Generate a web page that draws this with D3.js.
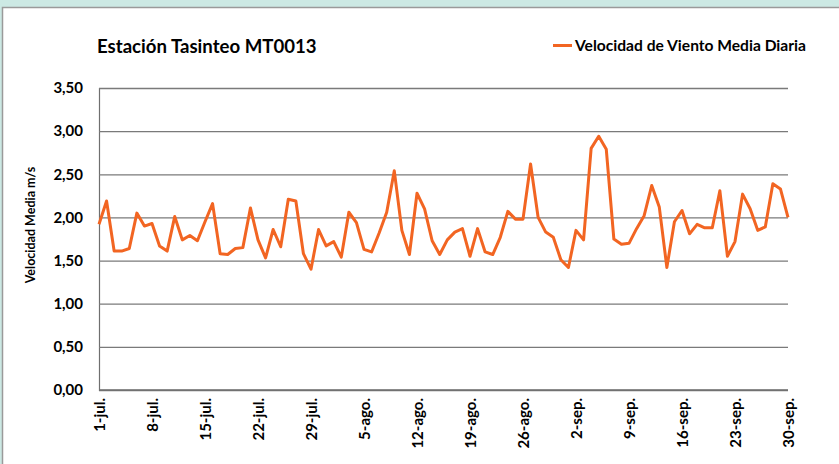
<!DOCTYPE html>
<html>
<head>
<meta charset="utf-8">
<script src="https://cdn.jsdelivr.net/npm/d3@7"></script>
<style>
  html, body { margin: 0; padding: 0; background: #cce9e4; }
  svg { display: block; }
  text { font-family: Lato, "Open Sans", sans-serif; font-weight: bold; fill: #000; }
</style>
</head>
<body>
<script>
// Daily mean wind speed, 1 Jul – 30 Sep
const startDate = "2013-07-01";
const windSpeed = [
  1.92, 2.19, 1.61, 1.61, 1.64, 2.05, 1.90, 1.93, 1.67, 1.61,
  2.01, 1.74, 1.79, 1.73, 1.95, 2.16, 1.58, 1.57, 1.64, 1.65,
  2.11, 1.74, 1.53, 1.86, 1.66, 2.21, 2.19, 1.58, 1.40, 1.86,
  1.67, 1.72, 1.54, 2.06, 1.94, 1.63, 1.60, 1.82, 2.06, 2.54,
  1.85, 1.57, 2.28, 2.10, 1.73, 1.57, 1.74, 1.83, 1.87, 1.55,
  1.87, 1.60, 1.57, 1.77, 2.07, 1.98, 1.98, 2.62, 2.00, 1.83,
  1.77, 1.51, 1.42, 1.85, 1.74, 2.80, 2.94, 2.79, 1.75, 1.69,
  1.70, 1.87, 2.02, 2.37, 2.12, 1.42, 1.95, 2.08, 1.81, 1.92,
  1.88, 1.88, 2.31, 1.55, 1.72, 2.27, 2.10, 1.85, 1.89, 2.39,
  2.33, 2.00
];
const yTicks = [0, 0.5, 1, 1.5, 2, 2.5, 3, 3.5];
const monthAbbr = ["ene.", "feb.", "mar.", "abr.", "may.", "jun.", "jul.", "ago.", "sep.", "oct.", "nov.", "dic."];
const chartTitle = "Estación Tasinteo MT0013";
const seriesName = "Velocidad de Viento Media Diaria";
const yTitle = "Velocidad Media m/s";

const W = 839, H = 464;
const plot = { left: 99, right: 788, top: 88, bottom: 390 };
const lineColor = "#f26522";

const parse = d3.utcParse("%Y-%m-%d");
const day0 = parse(startDate);
const data = windSpeed.map((v, i) => ({ date: d3.utcDay.offset(day0, i), value: v }));

const x = d3.scaleUtc()
  .domain(d3.extent(data, d => d.date))
  .range([plot.left, plot.right]);
const y = d3.scaleLinear().domain([0, 3.5]).range([plot.bottom, plot.top]);

const svg = d3.select("body").append("svg").attr("width", W).attr("height", H);

// white chart panel with grey frame
svg.append("rect").attr("x", 2.5).attr("y", 7.5).attr("width", W).attr("height", H)
  .attr("fill", "#fff").attr("stroke", "#9a9a9a").attr("stroke-width", 1.5);

// horizontal gridlines + y labels
const yAxis = d3.axisLeft(y).tickValues(yTicks)
  .tickSize(-(plot.right - plot.left))
  .tickPadding(16)
  .tickFormat(d => d3.format(".2f")(d).replace(".", ","));
const gy = svg.append("g").attr("transform", `translate(${plot.left},0)`).call(yAxis);
gy.select(".domain").attr("stroke", "#6f6f6f").attr("stroke-width", 1.2);
gy.selectAll(".tick line").attr("stroke", "#7a7a7a").attr("stroke-width", 1.3);
gy.selectAll(".tick text").style("font-size", "15px").attr("fill", "#000");

// x axis: weekly date labels, rotated
const xTicks = d3.range(0, windSpeed.length, 7).map(i => data[i].date);
const xAxis = d3.axisBottom(x).tickValues(xTicks).tickSize(0).tickPadding(8)
  .tickFormat(d => `${d.getUTCDate()}-${monthAbbr[d.getUTCMonth()]}`);
const gx = svg.append("g").attr("transform", `translate(0,${plot.bottom})`).call(xAxis);
gx.select(".domain").remove();
gx.selectAll(".tick text")
  .style("font-size", "15px")
  .attr("transform", "rotate(-90)")
  .attr("text-anchor", "end")
  .attr("dy", "0.35em")
  .attr("x", -8).attr("y", 0);
svg.append("line")
  .attr("x1", plot.left).attr("x2", plot.right)
  .attr("y1", plot.bottom).attr("y2", plot.bottom)
  .attr("stroke", "#6f6f6f").attr("stroke-width", 1.3);

// data line
const line = d3.line().x(d => x(d.date)).y(d => y(d.value));
svg.append("path").datum(data)
  .attr("d", line)
  .attr("fill", "none")
  .attr("stroke", lineColor)
  .attr("stroke-width", 3)
  .attr("stroke-linejoin", "round");

// title
svg.append("text").attr("x", 97).attr("y", 53).style("font-size", "18.6px").text(chartTitle);

// legend
svg.append("line").attr("x1", 553).attr("x2", 572).attr("y1", 45.5).attr("y2", 45.5)
  .attr("stroke", lineColor).attr("stroke-width", 3);
svg.append("text").attr("x", 575).attr("y", 51).style("font-size", "15.6px").text(seriesName);

// y axis title
svg.append("text")
  .attr("transform", `translate(35,${(plot.top + plot.bottom) / 2 - 14}) rotate(-90)`)
  .attr("text-anchor", "middle")
  .style("font-size", "12.5px")
  .text(yTitle);
</script>
</body>
</html>
